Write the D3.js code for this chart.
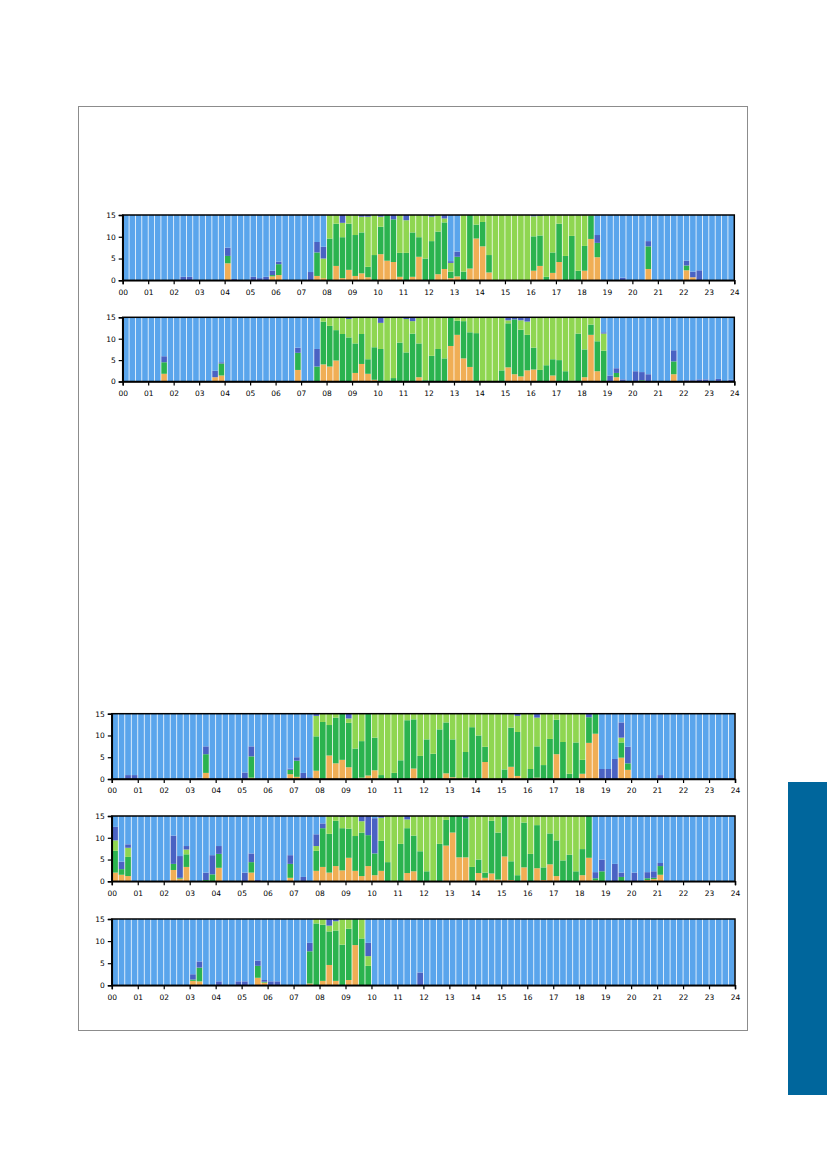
<!DOCTYPE html>
<html>
<head>
<meta charset="utf-8">
<script src="https://cdn.jsdelivr.net/npm/d3@7"></script>
<style>
html,body{margin:0;padding:0;background:#fff;}
svg{display:block;}
text{font-family:"DejaVu Sans",sans-serif;}
</style>
</head>
<body>
<svg id="chart" width="827" height="1169"></svg>
<script>
// ---------- DATA (96 quarter-hour bars per panel, full scale = 15) ----------
const xTickLabels = ["00","01","02","03","04","05","06","07","08","09","10","11","12",
                     "13","14","15","16","17","18","19","20","21","22","23","24"];
const yTicks = [0, 5, 10, 15];
const fullScale = 15;
const seriesKeys = ["orange", "dkgreen", "ltgreen", "indigo", "rest"];
const seriesColors = ["#f0ae55", "#2bb34f", "#8fd651", "#4a62c3", "#5aa5ec"];

// Panel 1
const p1Orange = [
 0,0,0,0, 0,0,0,0, 0,0,0,0, 0,0,0,0, 3.9,0,0,0, 0,0,0,0.9,
 1.2,0,0,0, 0,0,1.0,0.5, 0,3.3,0.5,2.4, 1.0,1.6,0.7,0, 6.0,4.5,4.2,0.8, 0,0.8,5.4,0,
 0,1.4,2.6,0.5, 0.9,0,2.7,9.6, 7.8,1.8,0,0, 0,0,0,0, 2.2,3.3,0,1.7, 4.2,0,0,0,
 2.2,9.5,5.3,0, 0,0,0,0, 0,0,2.6,0, 0,0,0,0, 2.3,0.7,0,0, 0,0,0,0];
const p1DkGreen = [
 0,0,0,0, 0,0,0,0, 0,0,0,0, 0,0,0,0, 1.7,0,0,0, 0,0,0,0.3,
 2.5,0,0,0, 0,0,5.4,0, 9.6,9.7,9.4,10.6, 9.4,9.4,2.4,5.8, 6.3,10.5,9.8,5.5, 6.3,10.2,4.5,5.0,
 9.0,9.8,10.7,1.5, 4.5,2.0,12.3,3.2, 5.6,4.0,0,0, 0,0,0,0, 7.9,7.0,0.8,4.7, 8.8,5.6,10.2,2.2,
 5.7,5.3,3.3,0, 0,0,0,0, 0,0,5.2,0, 0,0,0,0, 1.1,0,0,0, 0,0,0,0];
const p1LtGreen = [
 0,0,0,0, 0,0,0,0, 0,0,0,0, 0,0,0,0, 0,0,0,0, 0,0,0,0,
 0,0,0,0, 0,0,0,4.5, 5.4,2.0,3.3,2.0, 4.6,3.6,11.5,9.2, 2.3,0,0,8.7, 7.5,4.0,5.1,10.0,
 5.6,3.8,0.9,2.0, 0,13.0,0,2.2, 1.6,9.2,15,15, 15,15,15,15, 4.6,4.5,14.2,8.6, 2.0,9.4,4.8,12.8,
 7.1,0.2,0,0, 0,0,0,0, 0,0,0,0, 0,0,0,0, 0,0,0,0, 0,0,0,0];
const p1Indigo = [
 0,0,0,0, 0,0,0,0, 0,0.8,0.8,0, 0,0,0,0, 1.9,0.3,0,0, 0.8,0.5,0.8,1.0,
 0.6,0,0,0, 0,1.9,2.4,2.7, 0,0,1.8,0, 0,0.4,0.4,0, 0.4,0,1.0,0, 1.2,0,0,0,
 0.4,0,0.8,0.4, 1.2,0,0,0, 0,0,0,0, 0,0,0,0, 0.3,0.2,0,0, 0,0,0,0,
 0,0,1.8,0, 0,0,0.6,0, 0,0,1.2,0, 0,0,0,0, 1.1,1.3,2.3,0, 0,0,0,0];

// Panel 2
const p2Orange = [
 0,0,0,0, 0,0,1.8,0, 0,0,0,0, 0,0,1.0,1.4, 0,0,0,0, 0,0,0,0,
 0,0,0,2.7, 0,0,0,4.0, 3.5,4.9,0,0, 2.0,4.1,1.8,0.4, 0,0,0,0, 0,0,1.0,0,
 0,0,0,8.3, 10.9,5.4,3.4,0, 0,0,0,0, 3.3,1.7,1.2,2.6, 2.8,0,0,1.4, 0,0,0,0,
 1.0,10.9,2.4,0, 0,1.0,0,0, 0,0,0,0, 0,0,1.7,0, 0,0,0,0, 0,0,0,0];
const p2DkGreen = [
 0,0,0,0, 0,0,2.7,0, 0,0,0,0, 0,0,0,2.8, 0,0,0,0, 0,0,0,0,
 0,0,0,4.0, 0,0,3.5,10.0, 9.5,7.1,11.1,10.3, 6.9,7.0,3.4,7.6, 7.6,0,0.8,9.1, 6.8,11.2,7.9,0.3,
 6.0,7.6,5.4,6.7, 3.3,8.7,8.1,11.3, 0,0,0,2.6, 10.3,12.8,10.9,8.3, 5.1,2.7,3.8,3.8, 5.0,2.4,0.2,11.2,
 6.5,2.4,7.0,7.2, 0,1.0,0,0, 0,0.3,0,0, 0,0,3.0,0, 0,0,0,0, 0,0,0,0];
const p2LtGreen = [
 0,0,0,0, 0,0,0,0, 0,0,0,0, 0,0,0,0, 0,0,0,0, 0,0,0,0,
 0,0,0,0, 0,0,0,1.0, 2.0,3.0,3.9,4.3, 6.1,3.9,9.8,7.0, 6.1,15,14.2,5.9, 7.8,2.9,6.1,14.7,
 9.0,7.4,9.6,0, 0.8,0.9,3.5,3.7, 15,15,15,12.4, 0.7,0,2.2,3.1, 7.1,12.3,11.2,9.8, 10.0,12.6,14.8,3.8,
 7.5,1.7,5.6,4.0, 0,0,0,0, 0,0,0,0, 0,0,0,0, 0,0,0,0, 0,0,0,0];
const p2Indigo = [
 0,0,0,0, 0,0,1.4,0, 0,0,0,0, 0,0,1.5,0.3, 0,0,0,0, 0,0,0,0,
 0,0,0,1.2, 0,0,4.1,0, 0,0,0,0.4, 0,0,0,0, 1.3,0,0,0, 0.4,0.9,0,0,
 0,0,0,0, 0,0,0,0, 0,0,0,0, 0.7,0.5,0.7,1.0, 0,0,0,0, 0,0,0,0,
 0,0,0,0.3, 1.4,1.1,0.5,0, 2.4,1.9,1.7,0, 0,0,2.6,0, 0.3,0.3,0.5,0.5, 0,0.6,0,0.4];

// Panel 3
const p3Orange = [
 0,0,0,0, 0,0,0,0, 0,0,0,0, 0,0,1.4,0, 0,0,0,0, 0,0.3,0,0,
 0,0,0,1.1, 0.5,0,0,1.9, 0,5.4,3.6,4.4, 2.7,0,0.3,0.8, 2.0,0,0,0, 0,0,2.4,0,
 0,0,0,1.3, 0.4,0,0.3,0, 0,3.9,0,0, 0,2.8,0.7,0, 0,0.3,0,0, 5.7,0,0,0,
 1.2,8.3,10.4,0, 0,0,4.9,2.1, 0,0,0,0, 0,0,0,0, 0,0,0,0, 0,0,0,0];
const p3DkGreen = [
 0,0,0,0, 0,0,0,0, 0,0,0,0, 0,0,4.3,0, 0,0,0,0, 0,4.9,0,0,
 0,0,0,1.0, 3.7,0,0,7.9, 13.1,7.0,10.5,10.6, 10.2,7.0,8.4,14.2, 7.5,0.9,0,1.4, 4.3,13.5,11.3,5.3,
 9.1,5.8,11.4,11.7, 8.7,0,5.9,11.9, 10.0,3.5,0,0, 2.2,9.0,10.1,0, 2.3,7.2,3.2,9.2, 7.9,8.5,1.2,8.4,
 3.2,5.9,4.6,0, 0,0,3.5,1.5, 0,0,0,0, 0,0,0,0, 0,0,0,0, 0,0,0,0];
const p3LtGreen = [
 0,0,0,0, 0,0,0,0, 0,0,0,0, 0,0,0,0, 0,0,0,0, 0,0,0,0,
 0,0,0,0, 0,0,0,4.7, 1.9,2.6,0.9,0, 1.0,8.0,6.3,0, 5.5,14.1,15,13.6, 10.7,1.5,1.3,9.7,
 5.9,9.2,3.6,2.0, 5.9,15,8.8,3.1, 5.0,7.6,15,15, 12.8,3.2,3.7,15, 12.7,6.6,11.8,5.8, 1.4,6.5,13.8,6.6,
 10.6,0,0,0, 0,0,1.1,0, 0,0,0,0, 0,0,0,0, 0,0,0,0, 0,0,0,0];
const p3Indigo = [
 0,0,0.9,0.9, 0,0,0,0, 0,0,0,0, 0,0.3,1.8,0, 0,0,0,0, 1.5,2.3,0,0,
 0,0,0,0.3, 0.8,1.4,0.4,0.5, 0,0,0,0, 1.1,0,0,0, 0,0,0,0, 0,0,0,0,
 0,0,0,0, 0,0,0,0, 0,0,0,0, 0,0,0.5,0, 0,0.9,0,0, 0,0,0,0,
 0,0.8,0,2.3, 2.3,4.6,3.5,3.8, 0.2,0,0,0, 0.9,0,0,0, 0,0,0,0, 0,0,0,0.2];

// Panel 4
const p4Orange = [
 2.0,1.5,1.2,0, 0,0,0,0, 0,2.6,0.6,3.3, 0,0,0,0, 3.1,0,0,0, 0,2.0,0,0,
 0,0,0,0.8, 0,0,0,2.4, 3.3,2.0,3.5,2.5, 5.4,2.4,1.2,3.5, 1.4,2.4,0,0, 0,1.9,2.3,0,
 0,0,0,8.2, 11.2,5.5,5.5,0, 1.9,0.8,1.8,0.4, 5.7,0.3,0,3.2, 0,3.0,0.3,3.9, 1.2,0,0,0,
 1.4,5.4,0.2,0, 0,0,0,0, 0,0,0.3,0.5, 1.5,0,0,0, 0,0,0,0, 0,0,0,0];
const p4DkGreen = [
 5.0,1.3,4.4,0, 0,0,0,0, 0,1.4,0.2,2.9, 0,0,0.3,1.6, 3.2,0,0,0, 0,2.4,0,0,
 0,0,0,3.2, 0,0,0,4.6, 8.9,8.9,10.4,9.7, 6.7,8.0,10.0,7.1, 5.0,6.9,4.4,0, 8.6,10.3,8.2,6.9,
 2.3,0,8.6,5.9, 3.8,9.5,9.0,3.3, 3.1,1.2,12.1,10.8, 9.3,4.3,1.4,10.3, 6.3,9.9,2.9,7.1, 8.2,4.8,6.1,2.3,
 6.0,9.6,0.5,2.3, 0,0,1.0,0, 0,0,0.4,0.3, 2.0,0,0,0, 0,0,0,0, 0,0,0,0];
const p4LtGreen = [
 2.4,0,2.1,0, 0,0,0,0, 0,0,0,1.1, 0,0,0,0, 0,0,0,0, 0,0,0,0,
 0,0,0,0, 0,0,0,1.1, 0,4.1,1.1,2.6, 2.9,4.6,2.6,0, 0,5.3,10.6,15, 6.4,2.0,4.5,8.1,
 12.7,15,6.4,0.9, 0,0,0,11.7, 10.0,13.0,1.1,3.8, 0,10.4,13.6,1.5, 8.7,2.1,11.8,4.0, 5.6,10.2,8.9,12.7,
 7.6,0,0,0, 0,0,0,0, 0,0,0,0, 0,0,0,0, 0,0,0,0, 0,0,0,0];
const p4Indigo = [
 3.1,1.7,0.8,0, 0,0,0,0, 0.2,6.5,5.0,0.8, 0,0,1.7,4.4, 1.8,0,0,0, 2.0,2.0,0.3,0,
 0,0,0,2.0, 0,1.0,0,2.7, 1.1,0,0,0.2, 0,0,1.2,4.4, 8.1,0.4,0,0, 0,0.8,0,0,
 0,0,0,0, 0,0,0.5,0, 0,0,0,0, 0,0,0,0, 0,0,0,0, 0,0,0,0,
 0,0,1.4,2.7, 0,4.0,1.0,0, 2.0,0,1.4,1.5, 0.7,0,0,0, 0,0,0,0, 0,0,0,0];

// Panel 5
const p5Orange = [
 0,0,0,0, 0,0,0,0, 0,0,0,0, 1.0,0.9,0,0, 0,0,0,0, 0,0,1.7,0.6,
 0,0,0,0, 0,0,0.4,0, 1.0,4.6,1.0,0, 1.2,9.1,0,0, 0,0,0,0, 0,0,0,0,
 0,0,0,0, 0,0,0,0, 0,0,0,0, 0,0,0,0, 0,0,0,0, 0,0,0,0,
 0,0,0,0, 0,0,0,0, 0,0,0,0, 0,0,0,0, 0,0,0,0, 0,0,0,0];
const p5DkGreen = [
 0,0,0,0, 0,0,0,0, 0,0,0,0, 0.3,3.1,0,0, 0,0,0,0, 0,0,2.7,0.2,
 0,0,0,0, 0,0,7.3,14.0, 12.7,7.6,11.4,9.2, 11.6,5.9,10.6,4.4, 0,0,0,0, 0,0,0,0,
 0,0,0,0, 0,0,0,0, 0,0,0,0, 0,0,0,0, 0,0,0,0, 0,0,0,0,
 0,0,0,0, 0,0,0,0, 0,0,0,0, 0,0,0,0, 0,0,0,0, 0,0,0,0];
const p5LtGreen = [
 0,0,0,0, 0,0,0,0, 0,0,0,0, 0,0,0,0, 0,0,0,0, 0,0,0,0,
 0,0,0,0, 0,0,0,1.0, 1.3,1.3,2.1,5.8, 2.2,0,4.4,2.2, 0,0,0,0, 0,0,0,0,
 0,0,0,0, 0,0,0,0, 0,0,0,0, 0,0,0,0, 0,0,0,0, 0,0,0,0,
 0,0,0,0, 0,0,0,0, 0,0,0,0, 0,0,0,0, 0,0,0,0, 0,0,0,0];
const p5Indigo = [
 0,0,0,0, 0,0,0,0, 0,0,0,0, 1.2,1.4,0,0, 0.9,0,0,0.9, 0.9,0,1.2,0.4,
 0.9,0.9,0,0, 0,0,1.9,0, 0,1.5,0.5,0, 0,0,0,3.0, 0,0,0,0, 0,0,0,2.9,
 0,0,0,0, 0,0,0,0, 0,0,0,0, 0,0,0,0, 0,0,0,0, 0,0,0,0,
 0,0,0,0, 0,0,0,0, 0,0,0,0, 0,0,0,0, 0,0,0,0, 0,0,0,0];

const panelsData = [
  [p1Orange, p1DkGreen, p1LtGreen, p1Indigo],
  [p2Orange, p2DkGreen, p2LtGreen, p2Indigo],
  [p3Orange, p3DkGreen, p3LtGreen, p3Indigo],
  [p4Orange, p4DkGreen, p4LtGreen, p4Indigo],
  [p5Orange, p5DkGreen, p5LtGreen, p5Indigo]
];

// ---------- LAYOUT ----------
const layout = [
  {x0:122.7, x1:734.3, top:215.0, bottom:280.3},
  {x0:122.7, x1:734.3, top:317.3, bottom:381.5},
  {x0:111.8, x1:735.0, top:713.7, bottom:779.0},
  {x0:111.8, x1:735.0, top:816.0, bottom:881.3},
  {x0:111.8, x1:735.0, top:919.0, bottom:985.3}
];

const svg = d3.select("#chart");

// outer page frame
svg.append("rect").attr("x",78.5).attr("y",106.5).attr("width",669).attr("height",924)
  .attr("fill","none").attr("stroke","#8c8c8c").attr("stroke-width",1);
// side tab
svg.append("rect").attr("x",788).attr("y",782).attr("width",39).attr("height",313)
  .attr("fill","#00669c");

const nBars = 96;
panelsData.forEach((arrs, pi) => {
  const L = layout[pi];
  const rows = d3.range(nBars).map(i => {
    const o = {i, orange: arrs[0][i], dkgreen: arrs[1][i], ltgreen: arrs[2][i], indigo: arrs[3][i]};
    o.rest = Math.max(0, fullScale - o.orange - o.dkgreen - o.ltgreen - o.indigo);
    return o;
  });
  const stack = d3.stack().keys(seriesKeys)(rows);

  const xb = d3.scaleBand().domain(d3.range(nBars)).range([L.x0, L.x1])
    .paddingInner(0.12).paddingOuter(0.06);
  const xt = d3.scaleLinear().domain([0, 24]).range([L.x0, L.x1]);
  const y = d3.scaleLinear().domain([0, fullScale]).range([L.bottom, L.top]);

  const g = svg.append("g");
  g.selectAll("g.layer").data(stack).join("g")
    .attr("class","layer")
    .attr("fill", (d, k) => seriesColors[k])
    .selectAll("rect").data(d => d).join("rect")
      .attr("x", d => xb(d.data.i))
      .attr("width", xb.bandwidth())
      .attr("y", d => y(d[1]))
      .attr("height", d => Math.max(0, y(d[0]) - y(d[1])));

  // frame
  g.append("rect").attr("x", L.x0).attr("y", L.top)
    .attr("width", L.x1 - L.x0).attr("height", L.bottom - L.top)
    .attr("fill","none").attr("stroke","#000").attr("stroke-width",1.5);

  const xAxis = d3.axisBottom(xt).tickValues(d3.range(25))
    .tickFormat(v => xTickLabels[v]).tickSize(4).tickPadding(5);
  const gx = g.append("g").attr("transform", `translate(0,${L.bottom})`).call(xAxis);
  const yAxis = d3.axisLeft(y).tickValues(yTicks).tickSize(4).tickPadding(3);
  const gy = g.append("g").attr("transform", `translate(${L.x0},0)`).call(yAxis);
  [gx, gy].forEach(a => {
    a.select(".domain").attr("stroke","#000").attr("stroke-width",1.5);
    a.selectAll(".tick line").attr("stroke","#000").attr("stroke-width",1.2);
    a.selectAll(".tick text").attr("fill","#000").style("font-size","7.5px")
      .style("font-family","DejaVu Sans, sans-serif");
  });
});
</script>
</body>
</html>
